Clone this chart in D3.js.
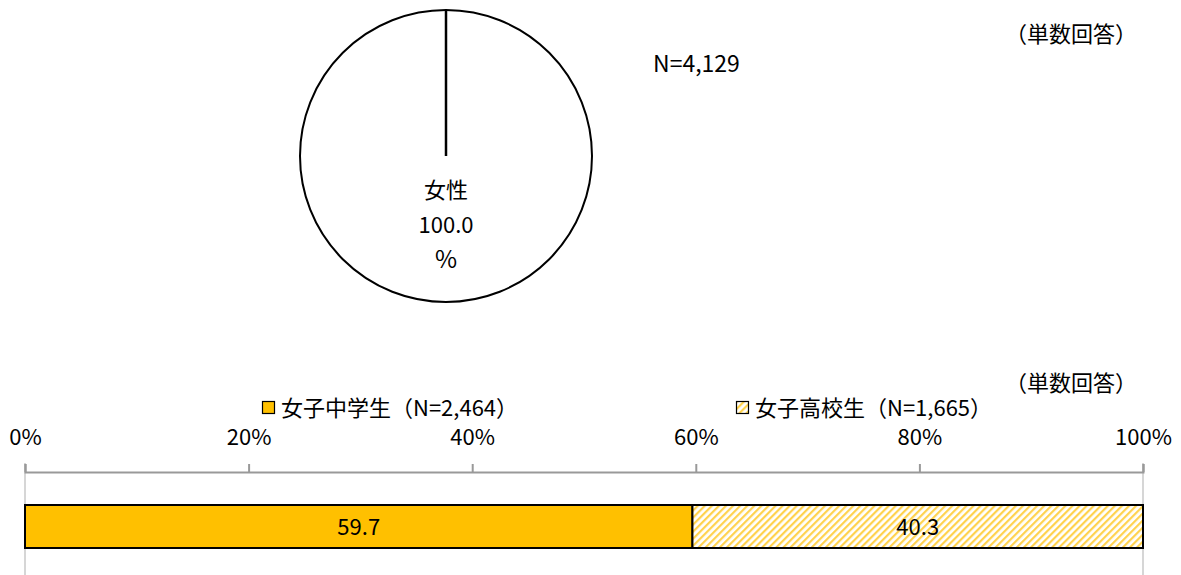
<!DOCTYPE html>
<html><head><meta charset="utf-8">
<script src="https://cdn.jsdelivr.net/npm/d3@7/dist/d3.min.js"></script>
<style>body{margin:0;background:#fff;}svg{display:block;font-family:"Noto Sans CJK JP","Noto Sans",sans-serif;}</style>
</head><body>
<svg id="c" width="1181" height="575"></svg>
<script>
const pieLabels = ["女性"];
const pieValues = [100.0];
const pieN = "N=4,129";
const noteText = "（単数回答）";
const barSeries = ["女子中学生（N=2,464）", "女子高校生（N=1,665）"];
const barValues = [59.7, 40.3];
const tickValues = [0, 20, 40, 60, 80, 100];

const svg = d3.select("#c");
const defs = svg.append("defs");
const pat = defs.append("pattern").attr("id","hatch").attr("patternUnits","userSpaceOnUse")
  .attr("width",5).attr("height",5).attr("patternTransform","rotate(45)");
pat.append("rect").attr("width",5).attr("height",5).attr("fill","#fff");
pat.append("rect").attr("x",0).attr("width",2.2).attr("height",5).attr("fill","#FFD24D");

// Pie
const cx = 446, cy = 156, r = 146;
const pieG = svg.append("g").attr("transform",`translate(${cx},${cy})`);
const arcs = d3.pie().sort(null)(pieValues);
const arcGen = d3.arc().innerRadius(0).outerRadius(r);
pieG.selectAll("path").data(arcs).join("path").attr("d",arcGen)
  .attr("fill","#fff").attr("stroke","#000").attr("stroke-width",2);
pieG.append("line").attr("x1",0).attr("y1",-r).attr("x2",0).attr("y2",0).attr("stroke","#000").attr("stroke-width",2.5);
const lab = pieG.append("g").attr("font-size",22).attr("text-anchor","middle").attr("fill","#000");
lab.append("text").attr("x",0).attr("y",42).text(pieLabels[0]);
lab.append("text").attr("x",0).attr("y",77).text(d3.format(".1f")(pieValues[0]));
lab.append("text").attr("x",0).attr("y",112).attr("font-size",24).text("%");

svg.append("text").attr("x",653).attr("y",72).attr("font-size",23).text(pieN);
svg.append("text").attr("x",1137).attr("y",42).attr("font-size",22).attr("text-anchor","end").text(noteText);
svg.append("text").attr("x",1137).attr("y",391).attr("font-size",22).attr("text-anchor","end").text(noteText);

// Legend
const legX = [262, 736];
barSeries.forEach((s,i)=>{
  const g = svg.append("g").attr("transform",`translate(${legX[i]},401)`);
  g.append("rect").attr("x",0.5).attr("y",0.5).attr("width",12).attr("height",12)
    .attr("fill", i===0 ? "#FFC000" : "url(#hatch)").attr("stroke","#000").attr("stroke-width",1.2);
  g.append("text").attr("x",19).attr("y",15).attr("font-size",22).text(s);
});

// Bar axis
const x = d3.scaleLinear().domain([0,100]).range([25,1143]);
svg.append("line").attr("x1",x(0)).attr("x2",x(0)).attr("y1",463).attr("y2",575).attr("stroke","#c8c8c8").attr("stroke-width",1.5);
svg.append("line").attr("x1",x(100)).attr("x2",x(100)).attr("y1",463).attr("y2",575).attr("stroke","#c8c8c8").attr("stroke-width",1.5);
const axis = d3.axisTop(x).tickValues(tickValues).tickSize(8).tickFormat(d=>d+"%");
const ag = svg.append("g").attr("transform","translate(0,472)").call(axis);
ag.select(".domain").attr("stroke","#999").attr("stroke-width",2);
ag.selectAll(".tick line").attr("stroke","#999").attr("stroke-width",2);
ag.selectAll(".tick text").attr("font-size",22).attr("fill","#000")
  .attr("font-family",'"Noto Sans CJK JP","Noto Sans",sans-serif').attr("y",-27);

// Bars
let cum = 0;
const segs = barValues.map((v,i)=>{const s={v,i,x0:cum,x1:cum+v};cum+=v;return s;});
const bg = svg.append("g");
bg.selectAll("rect").data(segs).join("rect")
  .attr("x",d=>x(d.x0)).attr("width",d=>x(d.x1)-x(d.x0)).attr("y",505).attr("height",43)
  .attr("fill",d=>d.i===0?"#FFC000":"url(#hatch)").attr("stroke","#000").attr("stroke-width",2);
bg.selectAll("text").data(segs).join("text")
  .attr("x",d=>(x(d.x0)+x(d.x1))/2).attr("y",535).attr("text-anchor","middle").attr("font-size",22)
  .text(d=>d3.format(".1f")(d.v));
</script>
</body></html>
